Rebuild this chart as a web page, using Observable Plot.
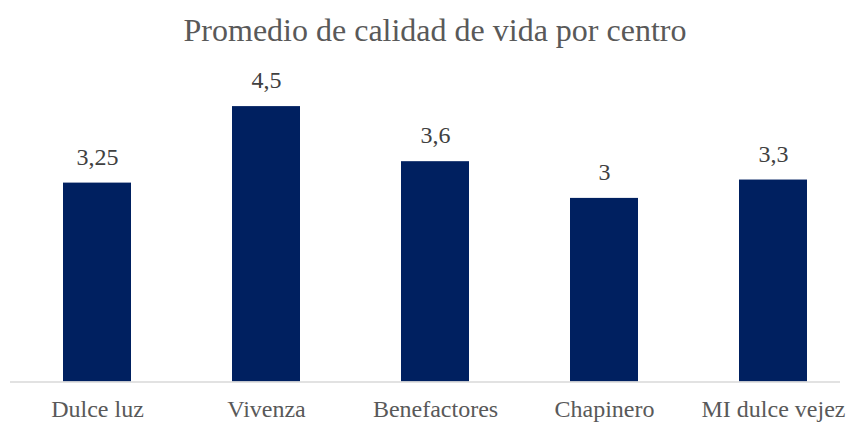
<!DOCTYPE html>
<html>
<head>
<meta charset="utf-8">
<script src="https://cdn.jsdelivr.net/npm/d3@7"></script>
<script src="https://cdn.jsdelivr.net/npm/@observablehq/plot@0.6"></script>
<style>
  html, body { margin: 0; padding: 0; background: #fff; }
  #wrap { position: relative; width: 850px; height: 423px; }
  #title { position: absolute; left: 0; top: 12px; width: 870px; text-align: center;
    font-family: "Liberation Serif", "Times New Roman", serif; font-size: 32px; color: #595959; }
  #chart svg, #chart svg text { font-family: "Liberation Serif", "Times New Roman", serif !important; }
</style>
</head>
<body>
<div id="wrap">
  <div id="title">Promedio de calidad de vida por centro</div>
  <div id="chart"></div>
</div>
<script>
const centros = ["Dulce luz", "Vivenza", "Benefactores", "Chapinero", "MI dulce vejez"];
const promedios = [3.25, 4.5, 3.6, 3, 3.3];
const etiquetas = ["3,25", "4,5", "3,6", "3", "3,3"];

const data = centros.map((c, i) => ({centro: c, valor: promedios[i], etiqueta: etiquetas[i]}));

const serif = "Liberation Serif";
const chart = Plot.plot({
  width: 850,
  height: 423,
  marginTop: 0,
  marginLeft: 10,
  marginRight: 10,
  marginBottom: 41.5,
  style: {fontFamily: serif, background: "transparent"},
  x: {domain: centros, range: [27.7, 841.3], paddingInner: 0.6, paddingOuter: 0.2, label: null, tickSize: 0, tickPadding: 18},
  y: {domain: [0, 5], range: [381.5, 75.5], axis: null},
  marks: [
    Plot.barY(data, {x: "centro", y: "valor", fill: "#002060"}),
    Plot.ruleY([0], {stroke: "#d9d9d9", strokeWidth: 1.3}),
    Plot.text(data, {x: "centro", y: "valor", text: "etiqueta", dy: -26, fontSize: 24, fontFamily: serif, fill: "#404040"}),
    Plot.axisX({fontSize: 24, fontFamily: serif, color: "#595959", tickSize: 0, tickPadding: 18, label: null})
  ]
});
document.getElementById("chart").appendChild(chart);
</script>
</body>
</html>
